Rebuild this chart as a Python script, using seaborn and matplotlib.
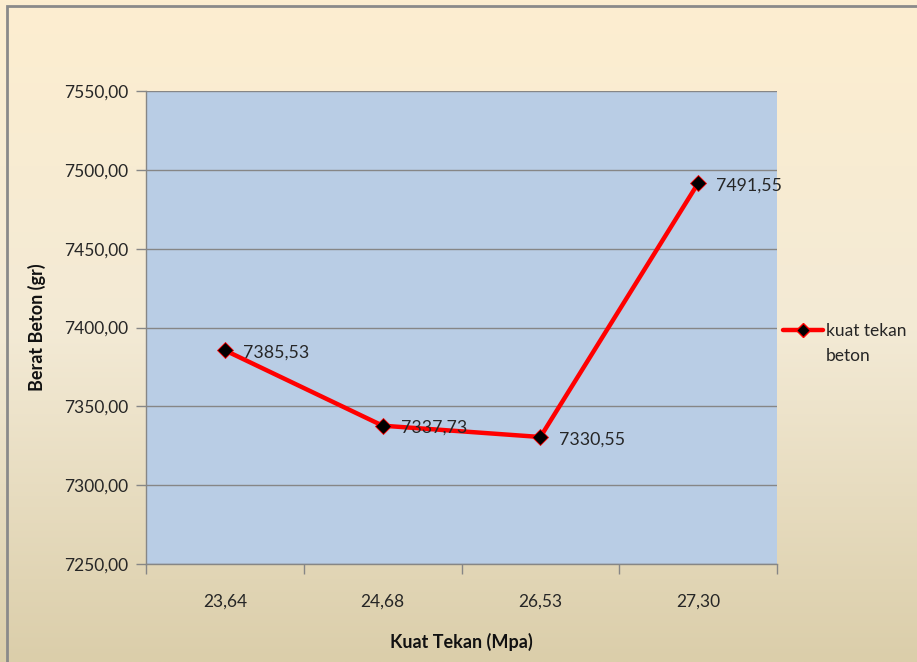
import numpy as np
import pandas as pd
import matplotlib
matplotlib.use("Agg")
import matplotlib.pyplot as plt
from matplotlib.patches import Rectangle
from matplotlib.lines import Line2D
import seaborn as sns

# Data
kuat_tekan = ["23,64", "24,68", "26,53", "27,30"]
berat_beton = [7385.53, 7337.73, 7330.55, 7491.55]
y_ticks = [7250, 7300, 7350, 7400, 7450, 7500, 7550]
series_name = ["kuat tekan", "beton"]

df = pd.DataFrame({"pos": np.arange(len(kuat_tekan)), "berat": berat_beton})

sns.set_theme(style="white")
plt.rcParams["font.family"] = ["Lato", "DejaVu Sans"]

TXT = "#262626"
W, H = 917, 662
fig = plt.figure(figsize=(W / 100, H / 100), dpi=100)

# Parchment gradient background
bg = fig.add_axes([0, 0, 1, 1], zorder=-10)
t = np.linspace(0, 1, 256)[:, None]
top = np.array([253, 238, 208]) / 255
mid = np.array([243, 234, 213]) / 255
bot = np.array([219, 206, 170]) / 255
grad = np.where(t < 0.5, top + (mid - top) * (t / 0.5),
                mid + (bot - mid) * ((t - 0.5) / 0.5))
img = np.repeat(grad[:, None, :], 2, axis=1)
bg.imshow(img, aspect="auto", extent=[0, 1, 0, 1], origin="upper")
bg.set_xlim(0, 1)
bg.set_ylim(0, 1)
bg.axis("off")

# Chart border
fig.patches.append(Rectangle((7 / W, -0.05), 1.2, 1 - 6 / H + 0.05,
                             transform=fig.transFigure, fill=False,
                             edgecolor="#8a8a8a", linewidth=2, zorder=5))

ax = fig.add_axes([146 / W, 1 - 564 / H, (777 - 146) / W, (564 - 91) / H])
ax.set_facecolor("#B9CDE5")

sns.lineplot(data=df, x="pos", y="berat", ax=ax, color="#FF0000", linewidth=3.2,
             marker="D", markersize=8, markerfacecolor="black",
             markeredgecolor="#FF0000", markeredgewidth=0.6, zorder=3)

for i, v in enumerate(berat_beton):
    ax.text(i + 0.115, v - 1.5, f"{v:.2f}".replace(".", ","), fontsize=12.8,
            color=TXT, va="center", ha="left", zorder=4)

ax.set_xlim(-0.5, len(kuat_tekan) - 0.5)
ax.set_ylim(y_ticks[0], y_ticks[-1])
ax.set_yticks(y_ticks)
ax.set_yticklabels([f"{v:.2f}".replace(".", ",") for v in y_ticks], fontsize=12.5,
                   color=TXT)
ax.set_xticks(np.arange(len(kuat_tekan)))
ax.set_xticklabels(kuat_tekan, fontsize=12.5, color=TXT)
ax.tick_params(axis="x", length=0, pad=21)
ax.set_xticks(np.arange(-0.5, len(kuat_tekan), 1.0), minor=True)
ax.tick_params(axis="x", which="minor", length=7, color="#868686", width=1,
               direction="out", bottom=True)
ax.tick_params(axis="y", length=7, color="#868686", width=1, direction="out",
               left=True, pad=6)

ax.grid(axis="y", color="#868686", linewidth=1)
ax.grid(axis="x", visible=False)
for s in ["top", "right"]:
    ax.spines[s].set_visible(False)
for s in ["left", "bottom"]:
    ax.spines[s].set_color("#868686")
    ax.spines[s].set_linewidth(1)

ax.set_xlabel("Kuat Tekan (Mpa)", fontsize=13, fontweight="bold", color="#111111",
              labelpad=17)
ax.set_ylabel("Berat Beton (gr)", fontsize=13, fontweight="bold", color="#111111",
              labelpad=13)

# Legend: handle on the first line of the series name, the rest wrapped below
handle = Line2D([0], [0], color="#FF0000", linewidth=3.2, marker="D", markersize=7,
                markerfacecolor="black", markeredgecolor="#FF0000")
fig.legend([handle], [series_name[0]], loc="center left",
           bbox_to_anchor=(783 / W, 1 - 331 / H), frameon=False, fontsize=12.5,
           handlelength=2.3, handletextpad=0.17, borderaxespad=0, borderpad=0,
           labelcolor=TXT)
fig.text(826 / W, 1 - 356 / H, series_name[1], fontsize=12.5, color=TXT,
         ha="left", va="center")

fig.savefig("out.png", dpi=100)
